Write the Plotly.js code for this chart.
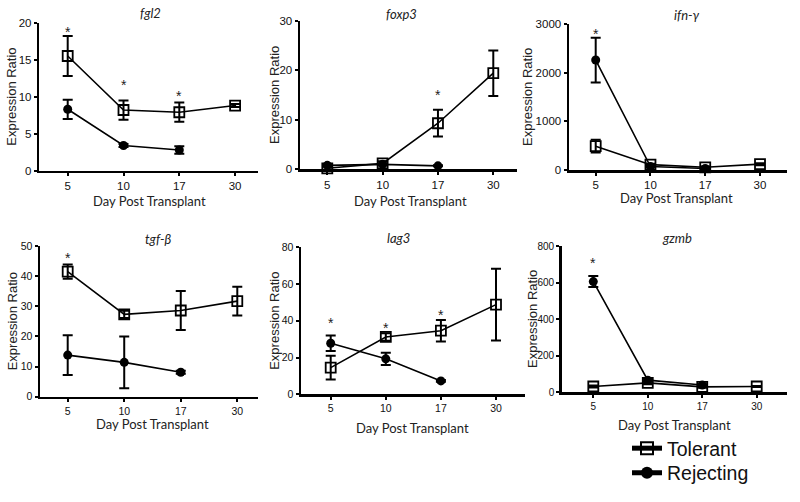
<!DOCTYPE html>
<html><head><meta charset="utf-8">
<script src="https://cdn.plot.ly/plotly-3.0.1.min.js"></script>
<style>html,body{margin:0;padding:0;background:#fff}#chart{width:800px;height:502px}</style>
</head><body><div id="chart"></div>
<script>
// ---- data ----
const days = ['5', '10', '17', '30'];
const geneNames = ['fgl2', 'foxp3', 'ifn-γ', 'tgf-β', 'lag3', 'gzmb'];
const seriesNames = ['Tolerant', 'Rejecting'];
const yTitle = 'Expression Ratio';
const xTitle = 'Day Post Transplant';

const fgl2Tol = [15.5, 8.2, 7.9, 8.8];
const fgl2TolErr = [2.7, 1.3, 1.3, 0.2];
const fgl2Rej = [8.3, 3.4, 2.8];
const fgl2RejErr = [1.3, 0.2, 0.5];
const fgl2StarDay = ['5', '10', '17'];
const fgl2StarY = [19.1, 12.0, 10.5];

const foxp3Tol = [0.2, 1.2, 9.3, 19.4];
const foxp3TolErr = [0.3, 0.4, 2.7, 4.6];
const foxp3Rej = [0.8, 1.0, 0.7];
const foxp3RejErr = [0.2, 0.2, 0.1];
const foxp3StarDay = ['17'];
const foxp3StarY = [15.7];

const ifngTol = [490, 110, 55, 120];
const ifngTolErr = [130, 20, 15, 20];
const ifngRej = [2260, 70, 30];
const ifngRejErr = [460, 15, 10];
const ifngStarDay = ['5'];
const ifngStarY = [2860];

const tgfbTol = [41.5, 27.3, 28.6, 31.7];
const tgfbTolErr = [2.4, 1.2, 6.5, 4.8];
const tgfbRej = [13.8, 11.4, 8.1];
const tgfbRejErr = [6.6, 8.6, 0.5];
const tgfbStarDay = ['5'];
const tgfbStarY = [47.0];

const lag3Tol = [14.5, 31.2, 34.6, 48.8];
const lag3TolErr = [6.5, 2.0, 5.9, 19.5];
const lag3Rej = [27.8, 19.3, 7.3];
const lag3RejErr = [4.2, 3.3, 0.5];
const lag3StarDay = ['5', '10', '17'];
const lag3StarY = [40.4, 37.7, 45.0];

const gzmbTol = [30, 50, 28, 30];
const gzmbTolErr = [5, 8, 5, 3];
const gzmbRej = [605, 65, 38];
const gzmbRejErr = [30, 8, 5];
const gzmbStarDay = ['5'];
const gzmbStarY = [723];

const yMax = [20, 30, 3000, 50, 80, 800];
const yStep = [5, 10, 1000, 10, 20, 200];

// ---- layout geometry (pixels in the 800x502 frame) ----
const W = 800, H = 502;
const geo = [
  {l: 39.3, r: 258, p0: 67.7, sp: 55.8, t: 22.7, b: 170.7, tx: 150, ty: 13.5, xx: 149, xy: 201, yx: 12, fs: 11.5},
  {l: 300, r: 516.7, p0: 327.3, sp: 55.33, t: 20.7, b: 169.3, tx: 401.7, ty: 14, xx: 410.8, xy: 201, yx: 274, fs: 11.5},
  {l: 569, r: 786.7, p0: 595.7, sp: 54.77, t: 24, b: 170, tx: 686.7, ty: 15, xx: 676.7, xy: 198, yx: 527, fs: 11.5},
  {l: 40, r: 258, p0: 67.7, sp: 56.53, t: 246, b: 396.7, tx: 158.3, ty: 239.3, xx: 152, xy: 424, yx: 12, fs: 10.5},
  {l: 301, r: 525, p0: 330.7, sp: 55.1, t: 247.3, b: 394.3, tx: 398.3, ty: 238.3, xx: 412, xy: 428, yx: 275, fs: 10.5},
  {l: 561.7, r: 786.7, p0: 593.3, sp: 54.47, t: 246, b: 392, tx: 676.7, ty: 238.3, xx: 674, xy: 425, yx: 532, fs: 10}
];

const tolData = [fgl2Tol, foxp3Tol, ifngTol, tgfbTol, lag3Tol, gzmbTol];
const tolErrData = [fgl2TolErr, foxp3TolErr, ifngTolErr, tgfbTolErr, lag3TolErr, gzmbTolErr];
const rejData = [fgl2Rej, foxp3Rej, ifngRej, tgfbRej, lag3Rej, gzmbRej];
const rejErrData = [fgl2RejErr, foxp3RejErr, ifngRejErr, tgfbRejErr, lag3RejErr, gzmbRejErr];
const starDays = [fgl2StarDay, foxp3StarDay, ifngStarDay, tgfbStarDay, lag3StarDay, gzmbStarDay];
const starYs = [fgl2StarY, foxp3StarY, ifngStarY, tgfbStarY, lag3StarY, gzmbStarY];

const idx = days.map((d, i) => i);
const legFont = {family: 'Liberation Sans, Arial, sans-serif', size: 19.5, color: '#111'};

const traces = [];
const layout = {
  width: W, height: H,
  margin: {l: 0, r: 0, t: 0, b: 0},
  paper_bgcolor: '#fff', plot_bgcolor: 'rgba(0,0,0,0)',
  showlegend: true,
  legend: {
    x: 627 / W, y: 1 - 429 / H, xanchor: 'left', yanchor: 'top',
    font: legFont, bgcolor: 'rgba(0,0,0,0)', borderwidth: 0,
    itemsizing: 'constant', itemwidth: 30
  },
  legend2: {
    x: 627 / W, y: 1 - 453.5 / H, xanchor: 'left', yanchor: 'top',
    font: legFont, bgcolor: 'rgba(0,0,0,0)', borderwidth: 0,
    itemsizing: 'constant', itemwidth: 30
  },
  annotations: []
};

for (let i = 0; i < 6; i++) {
  const g = geo[i];
  const xa = 'x' + (i + 1), ya = 'y' + (i + 1);
  const tickFont = {family: 'Liberation Sans, Arial, sans-serif', size: g.fs, color: '#111'};
  layout['xaxis' + (i + 1)] = {
    domain: [g.l / W, g.r / W],
    range: [(g.l - g.p0) / g.sp, (g.r - g.p0) / g.sp],
    anchor: ya, tickvals: idx, ticktext: days,
    showline: true, linewidth: 2.5, linecolor: '#000',
    ticks: 'outside', ticklen: 3, tickwidth: 2, tickcolor: '#000',
    showgrid: false, zeroline: false, tickfont: tickFont, fixedrange: true
  };
  layout['yaxis' + (i + 1)] = {
    domain: [1 - g.b / H, 1 - g.t / H],
    range: [0, yMax[i]], dtick: yStep[i], tick0: 0,
    anchor: xa,
    showline: true, linewidth: 2.5, linecolor: '#000',
    ticks: 'outside', ticklen: 3, tickwidth: 2, tickcolor: '#000',
    showgrid: false, zeroline: false, tickfont: tickFont, fixedrange: true
  };
  traces.push({
    type: 'scatter', mode: 'lines+markers', name: seriesNames[0],
    x: idx.slice(0, tolData[i].length), y: tolData[i], xaxis: xa, yaxis: ya,
    error_y: {type: 'data', array: tolErrData[i], visible: true, color: '#000', thickness: 2, width: 5},
    line: {color: '#000', width: 1.6},
    marker: {symbol: 'square-open', size: 10, color: '#000', line: {width: 1.8, color: '#000'}},
    cliponaxis: false, showlegend: i === 0, legend: 'legend'
  });
  traces.push({
    type: 'scatter', mode: 'lines+markers', name: seriesNames[1],
    x: idx.slice(0, rejData[i].length), y: rejData[i], xaxis: xa, yaxis: ya,
    error_y: {type: 'data', array: rejErrData[i], visible: true, color: '#000', thickness: 2, width: 5},
    line: {color: '#000', width: 1.6},
    marker: {symbol: 'circle', size: 9, color: '#000'},
    cliponaxis: false, showlegend: i === 0, legend: 'legend2'
  });
  layout.annotations.push({
    xref: 'paper', yref: 'paper', x: g.tx / W, y: 1 - g.ty / H,
    xanchor: 'center', yanchor: 'middle', showarrow: false,
    text: '<i>' + geneNames[i] + '</i>',
    font: {family: 'Lato, Open Sans, sans-serif', size: 13, color: '#222'}
  });
  layout.annotations.push({
    xref: 'paper', yref: 'paper', x: g.xx / W, y: 1 - g.xy / H,
    xanchor: 'center', yanchor: 'middle', showarrow: false,
    text: xTitle,
    font: {family: 'Lato, Open Sans, sans-serif', size: 13, color: '#222'}
  });
  layout.annotations.push({
    xref: 'paper', yref: 'paper', x: g.yx / W, y: 1 - (g.t + g.b) / 2 / H,
    xanchor: 'center', yanchor: 'middle', showarrow: false, textangle: -90,
    text: yTitle,
    font: {family: 'Liberation Sans, Arial, sans-serif', size: 13, color: '#222'}
  });
  starDays[i].forEach((d, k) => {
    layout.annotations.push({
      xref: xa, yref: ya, x: days.indexOf(d), y: starYs[i][k],
      xanchor: 'center', yanchor: 'middle', yshift: -3, showarrow: false,
      text: '*', font: {family: 'Liberation Sans, Arial, sans-serif', size: 14, color: '#222'}
    });
  });
}

Plotly.newPlot('chart', traces, layout, {displayModeBar: false, staticPlot: true});
</script>
</body></html>
